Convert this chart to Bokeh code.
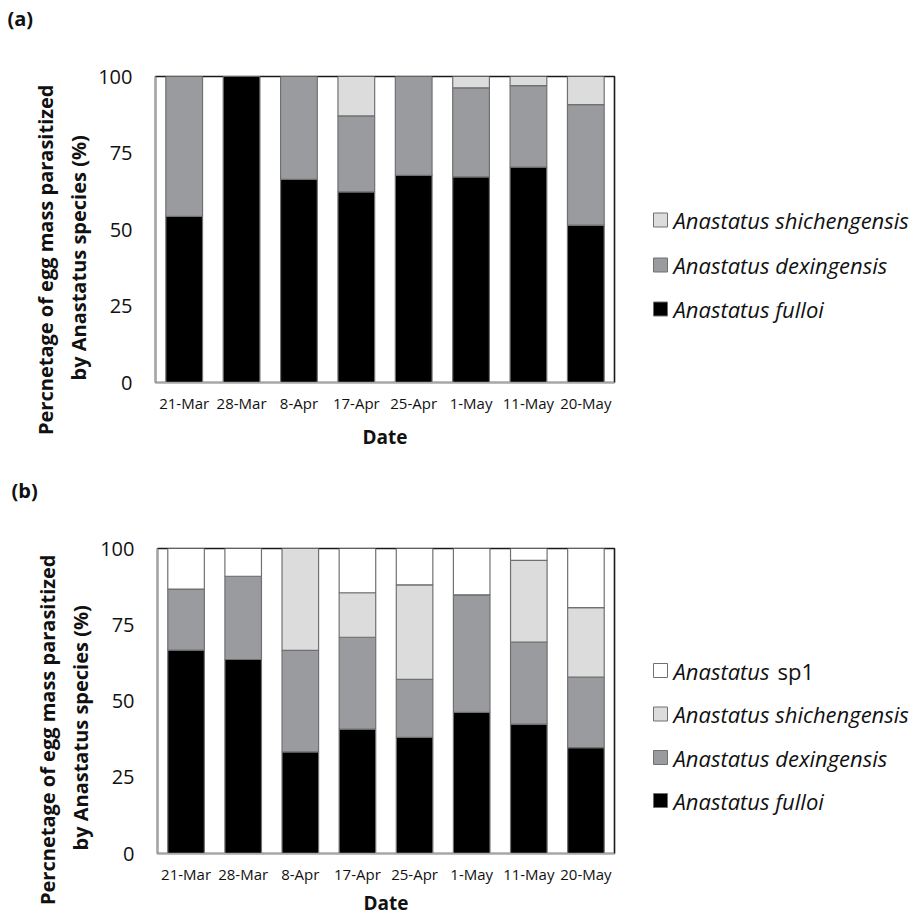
import math
from bokeh.plotting import figure
from bokeh.models import FactorRange, Range1d, FixedTicker, ColumnDataSource, Title
from bokeh.core.properties import value
from bokeh.layouts import column, row
from bokeh.embed import file_html
from bokeh.resources import INLINE

# ---------------- data ----------------
dates = ["21-Mar", "28-Mar", "8-Apr", "17-Apr", "25-Apr", "1-May", "11-May", "20-May"]
y_ticks = [0, 25, 50, 75, 100]

a_fulloi = [54.3, 100.0, 66.4, 62.3, 67.7, 67.2, 70.4, 51.4]
a_dexingensis = [45.7, 0.0, 33.6, 24.8, 32.3, 29.1, 26.6, 39.4]
a_shichengensis = [0.0, 0.0, 0.0, 12.9, 0.0, 3.7, 3.0, 9.2]

b_fulloi = [66.7, 63.6, 33.3, 40.8, 38.1, 46.3, 42.4, 34.7]
b_dexingensis = [20.0, 27.3, 33.3, 30.1, 19.0, 38.5, 26.9, 23.1]
b_shichengensis = [0.0, 0.0, 33.4, 14.6, 31.0, 0.0, 26.8, 22.8]
b_sp1 = [13.3, 9.1, 0.0, 14.5, 11.9, 15.2, 3.9, 19.4]

y_title = ["Percnetage of egg mass parasitized", "by Anastatus species (%)"]
x_title = "Date"

FONT = "Open Sans"
TXT = "#111111"
C_FUL = "#000000"
C_DEX = "#9a9b9f"
C_SHI = "#dcdcdc"
C_SP1 = "#ffffff"
EDGE = "#707070"

W_MAIN, W_RIGHT = 640, 277


def add_text(f, x, y, text, size, style="normal"):
    f.text(x=[x], y=[y], text=[text], text_font=value(FONT),
           text_font_size=value(size), text_font_style=style, text_align="left",
           text_baseline="middle", text_color=TXT)


def make_panel(series, colors, names, tag, L, T, height, bottom, tick_so, lab_so,
               tag_x, ylab_offsets, legend_rows):
    B = height - bottom
    p = figure(x_range=FactorRange(*dates, range_padding=0), y_range=Range1d(0, 100),
               width=W_MAIN, height=height, output_backend="svg", toolbar_location=None,
               min_border_left=L, min_border_right=W_MAIN - 614,
               min_border_top=T, min_border_bottom=bottom, title=tag)
    data = {"dates": dates}
    keys = []
    for i, s in enumerate(series):
        k = "s%d" % i
        data[k] = s
        keys.append(k)
    src = ColumnDataSource(data)
    p.vbar_stack(keys, x="dates", width=0.64, source=src,
                 fill_color=colors, line_color=EDGE, line_width=1.2)

    # panel tag as (outermost) title, pushed up by a blank spacer title
    p.title.align = "left"
    p.title.offset = tag_x - L
    p.title.standoff = 0
    p.title.vertical_align = "middle"
    p.title.text_font = FONT
    p.title.text_font_size = "20px"
    p.title.text_font_style = "bold"
    p.title.text_color = TXT
    p.add_layout(Title(text=" ", standoff=15, text_font=FONT, text_font_size="20px"), "above")

    p.xgrid.visible = False
    p.ygrid.visible = False
    p.outline_line_color = "#1a1a1a"
    p.outline_line_width = 1.6
    p.background_fill_color = "white"
    p.border_fill_color = "white"

    p.yaxis.ticker = FixedTicker(ticks=y_ticks)
    for ax in (p.xaxis[0], p.yaxis[0]):
        ax.axis_line_color = "#a6a6a6"
        ax.axis_line_width = 1.5
        ax.major_tick_line_color = None
        ax.minor_tick_line_color = None
        ax.major_tick_out = 0
        ax.major_tick_in = 0
        ax.major_label_text_font = FONT
        ax.major_label_text_color = TXT
    p.yaxis.major_label_text_font_size = "20px"
    p.yaxis.major_label_standoff = 23
    p.xaxis.major_label_text_font_size = "15px"
    p.xaxis.major_label_standoff = tick_so
    p.xaxis.axis_label = x_title
    p.xaxis.axis_label_text_font = FONT
    p.xaxis.axis_label_text_font_size = "19px"
    p.xaxis.axis_label_text_font_style = "bold"
    p.xaxis.axis_label_text_color = TXT
    p.xaxis.axis_label_standoff = lab_so

    # y-axis title: two rotated lines on the left side
    for txt, so, off in ((y_title[1], 7, ylab_offsets[1]), (y_title[0], 1, ylab_offsets[0])):
        p.add_layout(Title(text=txt, align="left", offset=off, standoff=so,
                           text_font=FONT, text_font_size="20px", text_font_style="bold",
                           text_color=TXT), "left")

    # ---- right strip: legend ----
    right = figure(width=W_RIGHT, height=height, x_range=Range1d(W_MAIN, W_MAIN + W_RIGHT),
                   y_range=Range1d(B, T), output_backend="svg", toolbar_location=None,
                   x_axis_location=None, y_axis_location=None, min_border=0,
                   min_border_top=T, min_border_bottom=bottom)
    right.grid.visible = False
    right.outline_line_color = None
    right.background_fill_color = "white"
    right.border_fill_color = "white"
    order = list(range(len(names)))[::-1]
    sw_c = [colors[i] for i in order]
    right.rect(x=[660] * len(order), y=list(legend_rows), width=14, height=14,
               fill_color=sw_c, line_color=EDGE, line_width=1)
    for j, i in enumerate(order):
        nm = names[i]
        if nm.endswith(" sp1"):
            add_text(right, 673, legend_rows[j], nm[:-4], "22px", "italic")
            add_text(right, 777, legend_rows[j], "sp1", "22px", "normal")
        else:
            add_text(right, 673, legend_rows[j], nm, "22px", "italic")

    return row(p, right)


pa = make_panel([a_fulloi, a_dexingensis, a_shichengensis], [C_FUL, C_DEX, C_SHI],
                ["Anastatus fulloi", "Anastatus dexingensis", "Anastatus shichengensis"],
                "(a)", 155, 76, 452, 70, 10, 8, 7, (-52.5, 2), [219.5, 264.5, 308.5])
pb = make_panel([b_fulloi, b_dexingensis, b_shichengensis, b_sp1], [C_FUL, C_DEX, C_SHI, C_SP1],
                ["Anastatus fulloi", "Anastatus dexingensis", "Anastatus shichengensis", "Anastatus sp1"],
                "(b)", 157, 96, 466, 65, 10, 3, 11, (-51.5, 3),
                [218, 261.5, 305, 348])

layout = column(pa, pb)
open("out.html", "w").write(file_html(layout, INLINE))
